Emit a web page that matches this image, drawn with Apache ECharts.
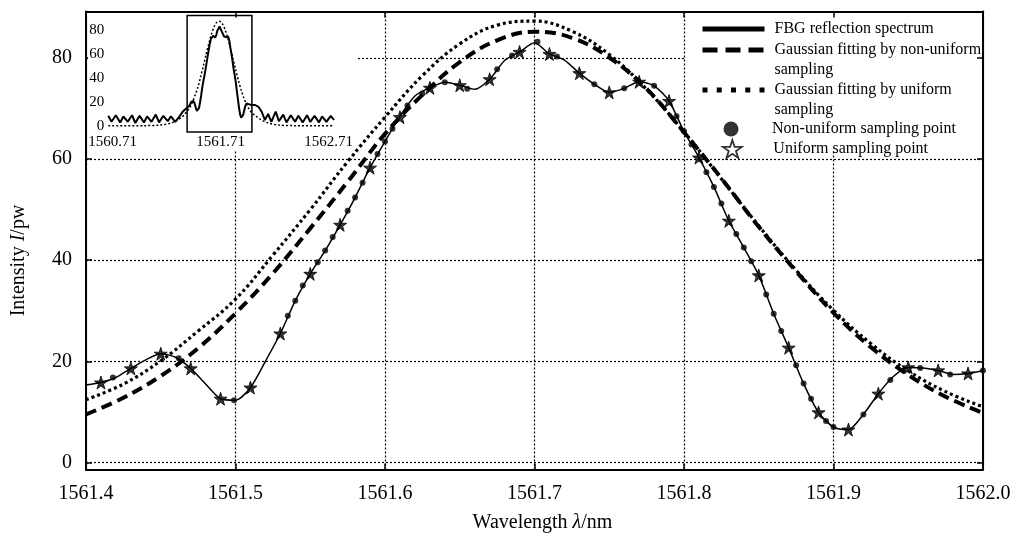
<!DOCTYPE html>
<html>
<head>
<meta charset="utf-8">
<script src="https://cdn.jsdelivr.net/npm/echarts@6/dist/echarts.min.js"></script>
<style>
html, body { margin: 0; padding: 0; background: #fff; }
#chart { width: 1018px; height: 534px; }
</style>
</head>
<body>
<div id="chart"></div>
<script>
// main axes
const xMin = 1561.4, xMax = 1562.0;
const yTicks = [0, 20, 40, 60, 80];

// gaussian fits, read every 0.025 nm
const fitWl = [1561.400, 1561.425, 1561.450, 1561.475, 1561.500, 1561.525, 1561.550, 1561.575, 1561.600,
  1561.625, 1561.650, 1561.675, 1561.700, 1561.725, 1561.750, 1561.775, 1561.800, 1561.825,
  1561.850, 1561.875, 1561.900, 1561.925, 1561.950, 1561.975, 1562.000];
const fitUniform = [12.4, 15.5, 20.1, 26.0, 32.3, 41.0, 50.0, 59.5, 68.3, 76.5, 82.8, 86.5, 87.3,
  85.3, 80.7, 73.8, 65.4, 56.1, 46.8, 38.0, 30.1, 23.5, 18.1, 14.0, 11.0];
const fitNonUniform = [9.5, 12.8, 17.1, 22.6, 29.5, 37.4, 46.3, 55.5, 65.0, 72.7, 79.2, 83.5, 85.2,
  84.0, 80.1, 73.9, 65.3, 56.2, 46.6, 37.8, 29.6, 22.8, 17.3, 13.0, 9.8];

// FBG reflection spectrum, every 0.01 nm
const fbgWl = [1561.40, 1561.41, 1561.42, 1561.43, 1561.44, 1561.45, 1561.46, 1561.47, 1561.48, 1561.49,
  1561.50, 1561.51, 1561.52, 1561.53, 1561.54, 1561.55, 1561.56, 1561.57, 1561.58, 1561.59,
  1561.60, 1561.61, 1561.62, 1561.63, 1561.64, 1561.65, 1561.66, 1561.67, 1561.68, 1561.69,
  1561.70, 1561.71, 1561.72, 1561.73, 1561.74, 1561.75, 1561.76, 1561.77, 1561.78, 1561.79,
  1561.80, 1561.81, 1561.82, 1561.83, 1561.84, 1561.85, 1561.86, 1561.87, 1561.88, 1561.89,
  1561.90, 1561.91, 1561.92, 1561.93, 1561.94, 1561.95, 1561.96, 1561.97, 1561.98, 1561.99, 1562.00];
const fbgVal = [15.3, 15.8, 16.8, 18.6, 20.3, 21.5, 20.8, 18.6, 15.5, 12.6,
  12.3, 14.8, 20.0, 25.5, 32.0, 37.3, 41.9, 47.0, 52.4, 58.3,
  63.5, 68.5, 72.5, 74.1, 75.2, 74.6, 73.8, 75.8, 79.5, 81.2,
  83.0, 80.8, 79.6, 77.0, 74.8, 73.2, 74.0, 75.3, 74.5, 71.5,
  65.5, 60.3, 54.5, 47.8, 42.5, 37.0, 29.4, 22.7, 15.6, 9.9,
  7.0, 6.5, 9.5, 13.6, 17.0, 18.8, 18.7, 18.2, 17.4, 17.6, 18.2];

// uniform sampling points (stars)
const starWl = [1561.41, 1561.43, 1561.45, 1561.47, 1561.49, 1561.51, 1561.53, 1561.55, 1561.57, 1561.59,
  1561.61, 1561.63, 1561.65, 1561.67, 1561.69, 1561.71, 1561.73, 1561.75, 1561.77, 1561.79,
  1561.81, 1561.83, 1561.85, 1561.87, 1561.89, 1561.91, 1561.93, 1561.95, 1561.97, 1561.99];
const starVal = [15.8, 18.6, 21.5, 18.6, 12.6, 14.8, 25.5, 37.3, 47.0, 58.3,
  68.3, 74.1, 74.6, 75.8, 81.2, 80.8, 77.0, 73.2, 75.3, 71.5,
  60.3, 47.8, 37.0, 22.7, 9.9, 6.5, 13.6, 18.8, 18.2, 17.6];

// non-uniform sampling points (dots)
const dotWl = [1561.418, 1561.462, 1561.499, 1561.535, 1561.540, 1561.545, 1561.555, 1561.560, 1561.565,
  1561.575, 1561.580, 1561.585, 1561.595, 1561.600, 1561.605, 1561.615, 1561.625, 1561.640, 1561.655,
  1561.675, 1561.685, 1561.702, 1561.715, 1561.740, 1561.760, 1561.780, 1561.795, 1561.800, 1561.805,
  1561.815, 1561.820, 1561.825, 1561.835, 1561.840, 1561.845, 1561.855, 1561.860, 1561.865, 1561.875,
  1561.880, 1561.885, 1561.895, 1561.900, 1561.920, 1561.938, 1561.958, 1561.978, 1562.000];
const dotVal = [16.8, 20.6, 12.3, 29.0, 32.0, 35.0, 39.6, 41.9, 44.6,
  49.8, 52.4, 55.3, 61.0, 63.5, 66.0, 70.6, 73.0, 75.2, 73.9,
  77.8, 80.5, 83.2, 80.3, 74.8, 74.0, 74.5, 68.5, 65.5, 62.9,
  57.4, 54.5, 51.2, 45.2, 42.5, 39.8, 33.2, 29.4, 26.0, 19.2,
  15.6, 12.6, 8.2, 7.0, 9.5, 16.3, 18.7, 17.4, 18.2];

// inset: full spectrum tails outside the main window
const insetXLabels = [1560.71, 1561.71, 1562.71];
const insetYLabels = [0, 20, 40, 60, 80];
const tailLeftWl = [1560.67, 1560.70, 1560.74, 1560.78, 1560.81, 1560.85, 1560.89, 1560.92, 1560.96, 1561.00,
  1561.03, 1561.07, 1561.11, 1561.14, 1561.18, 1561.22, 1561.25, 1561.29, 1561.33, 1561.36];
const tailLeftVal = [8.5, 3.5, 9.0, 3.0, 8.0, 3.5, 9.0, 2.5, 8.5, 3.0,
  8.0, 3.5, 9.5, 3.0, 8.5, 4.0, 8.0, 3.5, 8.0, 12.0];
const tailRightWl = [1562.03, 1562.06, 1562.09, 1562.12, 1562.15, 1562.18, 1562.22, 1562.25, 1562.29, 1562.32,
  1562.36, 1562.40, 1562.43, 1562.47, 1562.51, 1562.54, 1562.58, 1562.62, 1562.65, 1562.69, 1562.73, 1562.76];
const tailRightVal = [17.5, 16.0, 12.0, 5.0, 10.0, 3.5, 12.0, 4.0, 9.5, 3.0,
  9.0, 3.5, 8.5, 3.0, 9.0, 3.5, 8.5, 3.0, 8.0, 3.5, 8.5, 5.0];
const fitTailLeftWl = [1560.67, 1561.00, 1561.15, 1561.25, 1561.32, 1561.36];
const fitTailLeftVal = [0.3, 0.3, 0.8, 2.5, 5.5, 8.0];
const fitTailRightWl = [1562.04, 1562.08, 1562.15, 1562.25, 1562.40, 1562.76];
const fitTailRightVal = [8.0, 5.5, 2.5, 0.8, 0.3, 0.3];

const serif = 'Liberation Serif';
const pair = (xs, ys) => xs.map((x, i) => [x, ys[i]]);
const starPath = 'path://M50,0L61.2,34.5L97.6,34.5L68.2,55.9L79.4,90.5L50,69.1L20.6,90.5L31.8,55.9L2.4,34.5L38.8,34.5Z';
const gridDots = { color: '#000', width: 1.2, type: [2, 2] };
const blackLine = { color: '#000', width: 2 };

const names = {
  fbg: 'FBG reflection spectrum',
  nu: 'Gaussian fitting by non-uniform sampling',
  u: 'Gaussian fitting by uniform sampling',
  dot: 'Non-uniform sampling point',
  star: 'Uniform sampling point'
};

// one legend per row so wrapped rows keep the icon on the first line
const legendBase = {
  orient: 'vertical', left: 700, padding: 0, itemWidth: 62, z: 6,
  textStyle: { fontFamily: serif, fontSize: 16, color: '#000', lineHeight: 20, padding: [0, 0, 0, 5] },
  selectedMode: false
};
const twoLines = name => '\n' + name.replace(' sampling', '\nsampling');

const chart = echarts.init(document.getElementById('chart'));
chart.setOption({
  animation: false,
  backgroundColor: '#fff',
  textStyle: { fontFamily: serif, color: '#000' },
  grid: [
    { left: 86, right: 35, top: 11.5, bottom: 64.5, outerBoundsMode: 'none' },
    { left: 107.2, top: 15.6, width: 226.8, height: 116.4, outerBoundsMode: 'none' }
  ],
  graphic: [
    { type: 'rect', z: 1, silent: true, shape: { x: 88, y: 13, width: 268, height: 137 }, style: { fill: '#fff' } },
    { type: 'rect', z: 1, silent: true, shape: { x: 686, y: 13, width: 295, height: 138 }, style: { fill: '#fff' } }
  ],
  legend: [
    Object.assign({}, legendBase, { data: [names.fbg], top: 19, itemHeight: 14,
      lineStyle: { width: 5, type: 'solid', color: '#000' }, itemStyle: { opacity: 0 } }),
    Object.assign({}, legendBase, { data: [names.nu], top: 20, itemHeight: 14, formatter: twoLines,
      lineStyle: { width: 5, type: [15, 8], color: '#000' }, itemStyle: { opacity: 0 } }),
    Object.assign({}, legendBase, { data: [names.u], top: 60, itemHeight: 14, formatter: twoLines,
      lineStyle: { width: 5, type: [5, 9.25], color: '#000' }, itemStyle: { opacity: 0 } }),
    Object.assign({}, legendBase, { data: [names.dot], top: 119, left: 723.5, itemHeight: 15,
      itemStyle: { color: '#000' } }),
    Object.assign({}, legendBase, { data: [names.star], top: 139, left: 722, itemHeight: 18,
      itemStyle: { color: '#fff', borderColor: '#000', borderWidth: 1.8 } })
  ],
  xAxis: [
    {
      type: 'value', gridIndex: 0, min: xMin, max: xMax, interval: 0.1,
      axisLine: { onZero: false, lineStyle: blackLine },
      axisTick: { inside: true, length: 6, lineStyle: { color: '#000', width: 1.5 } },
      axisLabel: { formatter: v => v.toFixed(1), fontSize: 20, margin: 14, color: '#000', fontFamily: serif },
      splitLine: { show: true, lineStyle: gridDots },
      name: 'Wavelength {i|λ}/nm', nameLocation: 'middle', nameGap: 43,
      nameTextStyle: { fontSize: 20, fontFamily: serif, color: '#000', padding: [0, 0, 0, 16],
        rich: { i: { fontStyle: 'italic', fontSize: 20, fontFamily: serif, color: '#000' } } }
    },
    {
      type: 'value', gridIndex: 0, position: 'top', min: xMin, max: xMax, interval: 0.1, z: 5,
      axisLine: { onZero: false, lineStyle: blackLine },
      axisTick: { inside: true, length: 6, lineStyle: { color: '#000', width: 1.5 } },
      axisLabel: { show: false }, splitLine: { show: false }
    },
    {
      type: 'value', gridIndex: 1, min: 1560.66, max: 1562.76, z: 4,
      axisLine: { show: false }, axisTick: { show: false }, splitLine: { show: false },
      axisLabel: { customValues: insetXLabels, formatter: v => v.toFixed(2), fontSize: 15, margin: 3,
        color: '#000', fontFamily: serif }
    }
  ],
  yAxis: [
    {
      type: 'value', gridIndex: 0, min: -1.4, max: 89.2,
      axisLine: { onZero: false, lineStyle: blackLine },
      axisTick: { inside: true, length: 6, customValues: yTicks, lineStyle: { color: '#000', width: 1.5 } },
      axisLabel: { customValues: yTicks, fontSize: 20, margin: 14, color: '#000', fontFamily: serif },
      splitLine: { show: true, lineStyle: gridDots },
      name: 'Intensity {i|I}/pw', nameLocation: 'middle', nameGap: 57,
      nameTextStyle: { fontSize: 20, fontFamily: serif, color: '#000', padding: [0, 40, 0, 0],
        rich: { i: { fontStyle: 'italic', fontSize: 20, fontFamily: serif, color: '#000' } } }
    },
    {
      type: 'value', gridIndex: 0, position: 'right', min: -1.4, max: 89.2, z: 5,
      axisLine: { onZero: false, lineStyle: blackLine },
      axisTick: { inside: true, length: 6, customValues: yTicks, lineStyle: { color: '#000', width: 1.5 } },
      axisLabel: { show: false }, splitLine: { show: false }
    },
    {
      type: 'value', gridIndex: 1, min: -5, max: 92, z: 4,
      axisLine: { show: false }, axisTick: { show: false }, splitLine: { show: false },
      axisLabel: { customValues: insetYLabels, fontSize: 15, margin: 3, color: '#000', fontFamily: serif }
    }
  ],
  series: [
    {
      name: names.fbg, type: 'line', xAxisIndex: 0, yAxisIndex: 0, z: 3,
      data: pair(fbgWl, fbgVal), symbol: 'none', smooth: 0.25,
      lineStyle: { color: '#000', width: 1.5 }, itemStyle: { color: '#000' }
    },
    {
      name: names.nu, type: 'line', xAxisIndex: 0, yAxisIndex: 0, z: 2,
      data: pair(fitWl, fitNonUniform), symbol: 'none', smooth: 0.4,
      lineStyle: { color: '#000', width: 4, type: [11, 6] }, itemStyle: { color: '#000' }
    },
    {
      name: names.u, type: 'line', xAxisIndex: 0, yAxisIndex: 0, z: 2,
      data: pair(fitWl, fitUniform), symbol: 'none', smooth: 0.4,
      lineStyle: { color: '#000', width: 3.2, type: [3, 3] }, itemStyle: { color: '#000' }
    },
    {
      name: names.dot, type: 'scatter', xAxisIndex: 0, yAxisIndex: 0, z: 4,
      data: pair(dotWl, dotVal), symbol: 'circle', symbolSize: 6, itemStyle: { color: '#000' }
    },
    {
      name: names.star, type: 'scatter', xAxisIndex: 0, yAxisIndex: 0, z: 4,
      data: pair(starWl, starVal), symbol: starPath, symbolSize: 13,
      itemStyle: { color: '#000', borderColor: '#000', borderWidth: 1 }
    },
    {
      name: 'Inset spectrum', type: 'line', xAxisIndex: 2, yAxisIndex: 2, z: 4,
      data: pair(tailLeftWl, tailLeftVal).concat(pair(fbgWl, fbgVal), pair(tailRightWl, tailRightVal)),
      symbol: 'none', lineStyle: { color: '#000', width: 2 },
      markArea: {
        silent: true,
        itemStyle: { color: 'rgba(0,0,0,0)', borderColor: '#000', borderWidth: 1.5 },
        data: [[{ xAxis: xMin }, { xAxis: xMax }]]
      }
    },
    {
      name: 'Inset fit', type: 'line', xAxisIndex: 2, yAxisIndex: 2, z: 4,
      data: pair(fitTailLeftWl, fitTailLeftVal).concat(pair(fitWl, fitUniform), pair(fitTailRightWl, fitTailRightVal)),
      symbol: 'none', smooth: 0.3, lineStyle: { color: '#000', width: 1.5, type: [2, 2] }
    }
  ]
});
</script>
</body>
</html>
